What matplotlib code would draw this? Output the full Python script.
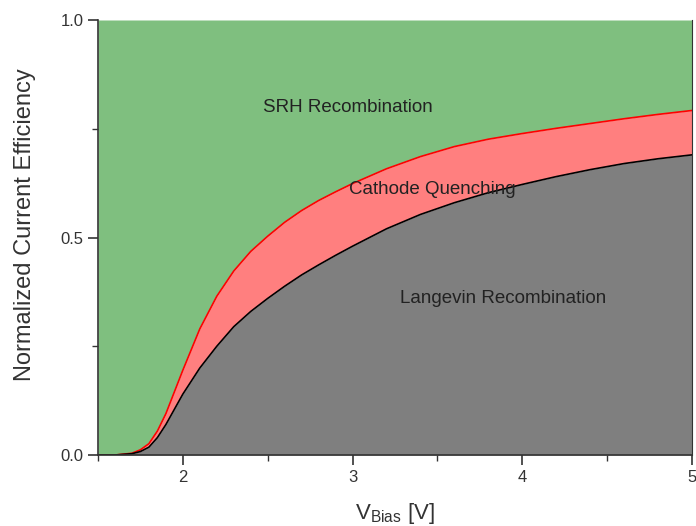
import matplotlib
matplotlib.use("Agg")
import matplotlib.pyplot as plt
import numpy as np
from matplotlib.ticker import MultipleLocator

plt.rcParams['font.family'] = ['Liberation Sans', 'DejaVu Sans']
plt.rcParams['mathtext.fontset'] = 'custom'
plt.rcParams['mathtext.rm'] = 'Liberation Sans'
plt.rcParams['mathtext.it'] = 'Liberation Sans:italic'

# Data
v_bias = [1.5, 1.6, 1.7, 1.75, 1.8, 1.85, 1.9, 1.95, 2.0, 2.1, 2.2, 2.3, 2.4, 2.5,
          2.6, 2.7, 2.8, 2.9, 3.0, 3.2, 3.4, 3.6, 3.8, 4.0, 4.2, 4.4, 4.6, 4.8, 5.0]
langevin = [0.0, 0.0, 0.003, 0.008, 0.018, 0.04, 0.07, 0.105, 0.14, 0.2, 0.25, 0.295,
            0.33, 0.36, 0.388, 0.414, 0.437, 0.459, 0.48, 0.52, 0.553, 0.58, 0.603,
            0.622, 0.64, 0.656, 0.67, 0.681, 0.69]
cathode = [0.0, 0.0, 0.004, 0.012, 0.026, 0.055, 0.095, 0.145, 0.195, 0.29, 0.365,
           0.423, 0.468, 0.503, 0.535, 0.562, 0.585, 0.605, 0.624, 0.658, 0.686,
           0.709, 0.726, 0.739, 0.751, 0.762, 0.773, 0.783, 0.792]
srh_top = [1.0] * len(v_bias)

labels = ["SRH Recombination", "Cathode Quenching", "Langevin Recombination"]
label_pos = [(2.97, 0.80), (3.47, 0.61), (3.89, 0.36)]

fig = plt.figure(figsize=(6.96, 5.26), dpi=100)
ax = fig.add_axes([98/696, 1-455/526, (692-98)/696, (455-20)/526])

x = np.array(v_bias)
ax.fill_between(x, cathode, srh_top, color='#7fbf7f', lw=0)
ax.fill_between(x, langevin, cathode, color='#ff7f7f', lw=0)
ax.fill_between(x, 0, langevin, color='#7f7f7f', lw=0)
ax.plot(x, cathode, color='#ff0000', lw=1.2)
ax.plot(x, langevin, color='#000000', lw=1.2)

for t, (tx, ty) in zip(labels, label_pos):
    ax.text(tx, ty, t, ha='center', va='center', fontsize=13.5, color='#222222')

ax.set_xlim(1.5, 5.0)
ax.set_ylim(0, 1.0)
ax.xaxis.set_minor_locator(MultipleLocator(0.5))
ax.yaxis.set_minor_locator(MultipleLocator(0.25))
ax.set_yticks([0, 0.5, 1.0])
ax.set_yticklabels(['0.0', '0.5', '1.0'])
ax.set_xticks([2, 3, 4, 5])
ax.set_xticklabels(['2', '3', '4', '5'])

ax.tick_params(which='major', direction='out', length=7, width=1.2, colors='#333333',
               labelsize=12, labelcolor='#333333')
ax.tick_params(which='minor', direction='out', length=4, width=1.0, colors='#333333')
ax.spines['top'].set_visible(False)
for s in ['left', 'bottom', 'right']:
    ax.spines[s].set_color('#333333')
    ax.spines[s].set_linewidth(1.2)
ax.spines['right'].set_linewidth(0.8)

ax.set_ylabel('Normalized Current Efficiency', fontsize=17, color='#333333')
ax.yaxis.set_label_coords(-0.104, 0.53)
ax.set_xlabel(r'V$_{\mathrm{Bias}}$ [V]', fontsize=16, color='#333333', labelpad=12)

fig.savefig('out.png', dpi=100)
